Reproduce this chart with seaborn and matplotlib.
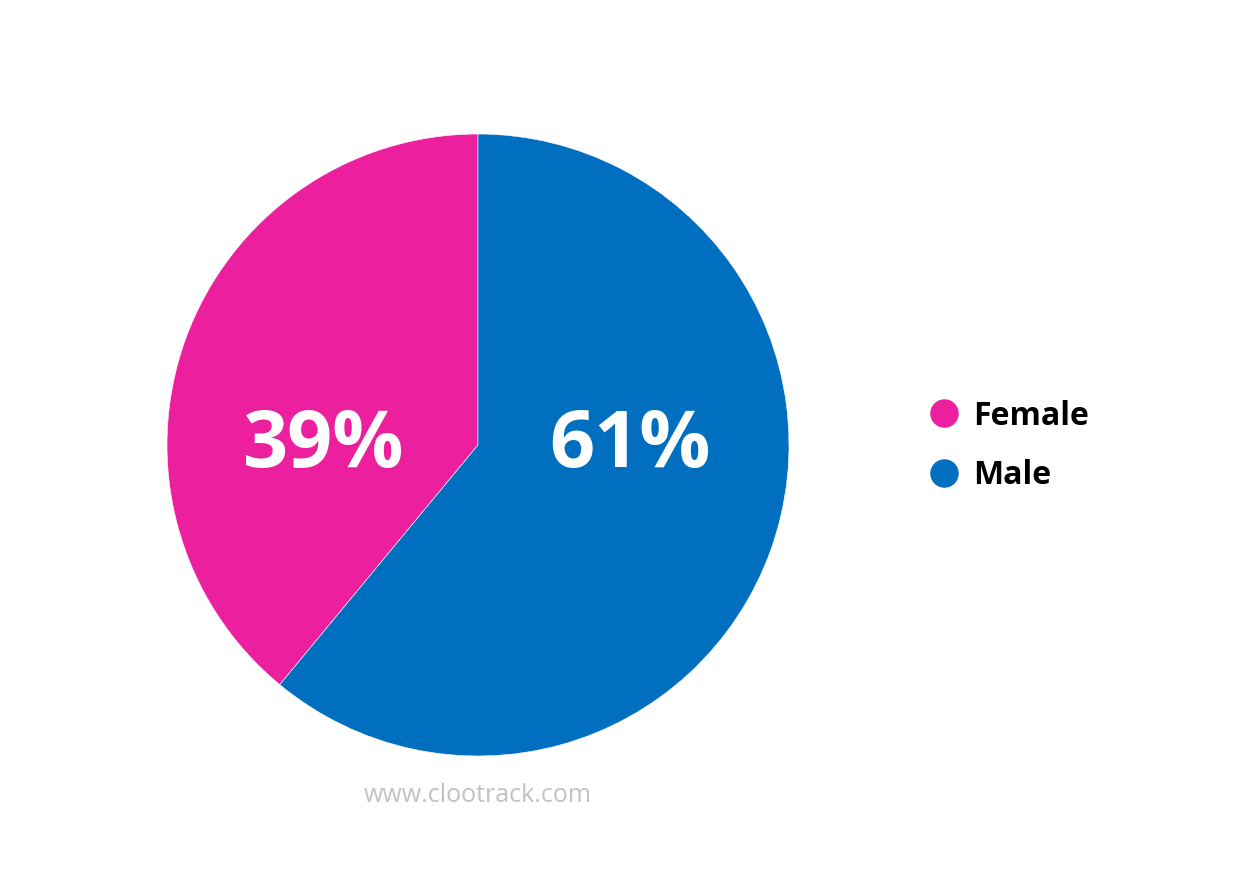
import matplotlib
matplotlib.use("Agg")
import matplotlib.pyplot as plt
import seaborn as sns
from matplotlib.lines import Line2D

categories = ["Female", "Male"]
values = [39, 61]
colors = ["#EC1F9E", "#006FC0"]
watermark = "www.clootrack.com"

sns.set_theme(style="white")
plt.rcParams['font.family'] = ['Open Sans', 'DejaVu Sans']

fig = plt.figure(figsize=(12.36, 8.92), dpi=100)
fig.patch.set_facecolor("white")
cx, cy, r = 478, 445, 311
W, H = 1236, 892
ax = fig.add_axes([(cx - r) / W, (H - cy - r) / H, 2 * r / W, 2 * r / H])
wedges, _ = ax.pie(values, colors=colors, startangle=90, counterclock=True,
                   radius=1, wedgeprops=dict(edgecolor="white", linewidth=0.4))
ax.set_xlim(-1, 1)
ax.set_ylim(-1, 1)
ax.set_aspect("equal")
ax.axis("off")

label_pos = [(-0.495, -0.006), (0.488, -0.006)]
for v, (x, y) in zip(values, label_pos):
    ax.text(x, y, f"{v}%", ha="center", va="center", color="white",
            fontsize=57, fontweight="bold")

handles = [Line2D([0], [0], marker="o", linestyle="none", markersize=19.5,
                  markerfacecolor=c, markeredgecolor=c) for c in colors]
leg = fig.legend(handles, categories, loc="center left",
                 bbox_to_anchor=(925 / W, 1 - 446 / H), frameon=False,
                 prop=dict(family="Open Sans", weight="bold", size=23),
                 labelspacing=0.84, handletextpad=0.31, handlelength=1.2,
                 borderpad=0, borderaxespad=0)
for t in leg.get_texts():
    t.set_color("black")

fig.text(cx / W, 1 - 795 / H, watermark, ha="center", va="center",
         color="#C2C2C2", fontsize=18)

fig.savefig("out.png", dpi=100, facecolor="white")
